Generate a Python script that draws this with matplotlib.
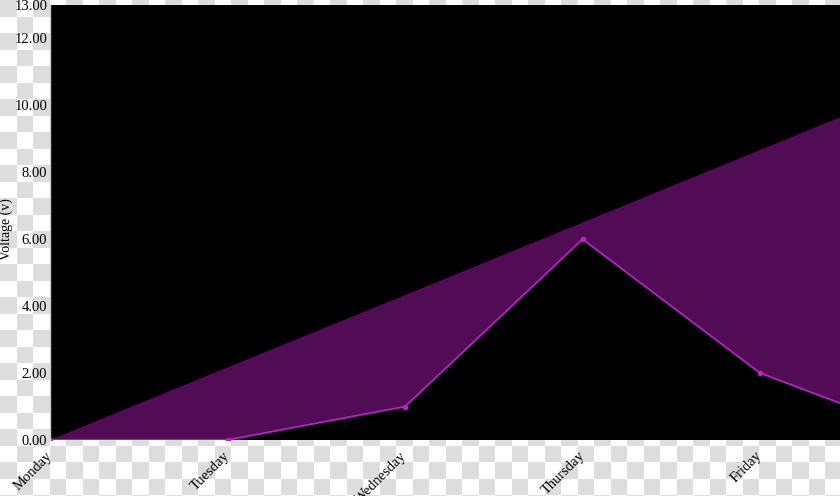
import matplotlib.pyplot as plt
import numpy as np

# Data
days = ['Monday', 'Tuesday', 'Wednesday', 'Thursday', 'Friday', 'Saturday']
upper = [0, 2.17, 4.33, 6.5, 8.67, 10.83]
voltage = [0, 0, 1, 6, 2, 0]
y_ticks = [0, 2, 4, 6, 8, 10, 12, 13]

plt.rcParams['font.family'] = ['Liberation Serif', 'DejaVu Serif']

fig = plt.figure(figsize=(8.4, 4.96), dpi=100)

# checkerboard backdrop (transparent-look background of the reference)
bg = fig.add_axes([0, 0, 1, 1])
yy, xx = np.mgrid[0:496, 0:840]
cell = 16.5
checker = ((xx // cell + yy // cell) % 2 == 0)
img = np.where(checker[..., None], np.array([0.87, 0.87, 0.87]), np.array([1.0, 1.0, 1.0]))
bg.imshow(img, aspect='auto', interpolation='nearest')
bg.set_axis_off()

ax = fig.add_axes([50 / 840, 56 / 496, 790 / 840, 435 / 496])
ax.set_facecolor('black')
x = np.arange(len(days))

ax.fill_between(x, voltage, upper, color='#520c55', linewidth=0)
ax.plot(x, voltage, color='#b821c8', linewidth=1.3, marker='o', markersize=3)

ax.set_yticks(y_ticks)
ax.set_yticklabels([f'{v:.2f}' for v in y_ticks], fontsize=10.5)
ax.set_xticks(x)
ax.set_xticklabels(days, fontsize=10.5, rotation=45, ha='right', va='center',
                   rotation_mode='anchor')
ax.set_xlim(0, 4.45)
ax.set_ylim(0, 13)
ax.tick_params(axis='both', length=0)
ax.tick_params(axis='y', pad=2)
ax.tick_params(axis='x', pad=10)
ax.set_ylabel('Voltage (v)', fontsize=10)
ax.yaxis.set_label_coords(-0.047, 0.485)

for side in ['top', 'right', 'bottom']:
    ax.spines[side].set_visible(False)
ax.spines['left'].set_color('#cccccc')
ax.spines['left'].set_linewidth(1)

fig.savefig('out.png', dpi=100)
